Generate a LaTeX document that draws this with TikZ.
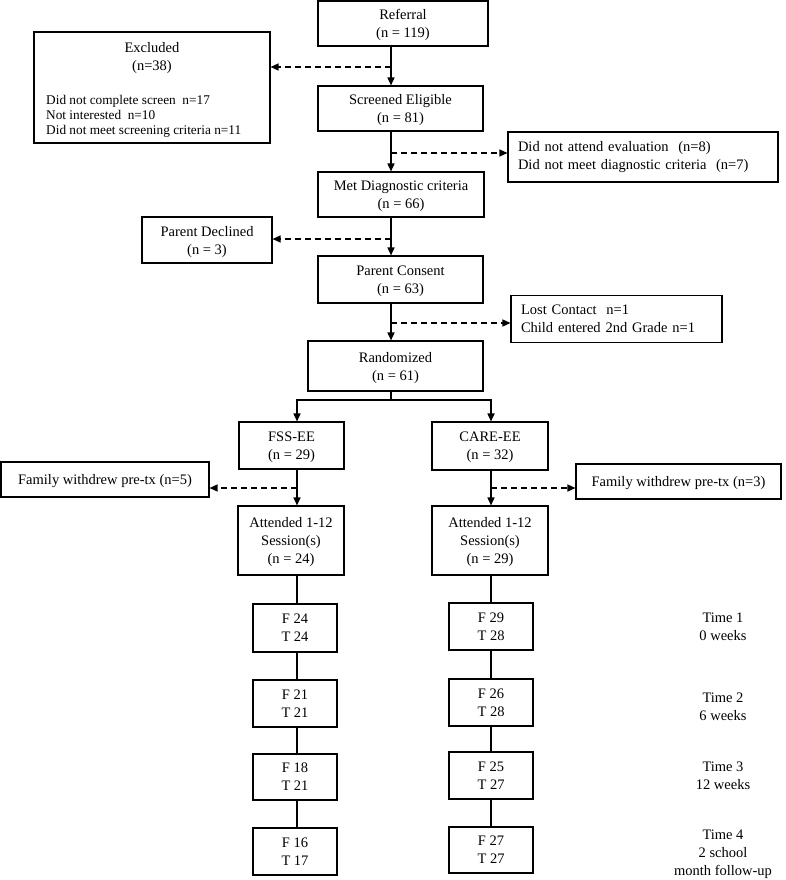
\documentclass[tikz,border=0pt]{standalone}
\usepackage{fontspec}
\setmainfont{Liberation Serif}
\usetikzlibrary{arrows.meta}
\newcommand\dgfont{\fontsize{14.5}{18}\selectfont}
\newcommand\dgsmall{\fontsize{13.3}{15}\selectfont}
\begin{document}
\begin{tikzpicture}[x=1pt,y=-1pt,
  box/.style={draw, line width=1.1pt, inner sep=0pt, align=center, font=\dgfont, text depth=0pt},
  lbox/.style={draw, line width=1.1pt, inner ysep=0pt, inner xsep=10pt, align=left, font=\dgfont},
  txt/.style={inner sep=0pt, align=center, font=\dgfont},
  arr/.style={line width=1.6pt, -{Triangle[length=8pt,width=7pt]}},
  darr/.style={line width=1.4pt, dash pattern=on 6pt off 4pt, -{Triangle[length=8pt,width=7pt]}},
  sline/.style={line width=1.6pt}]
\useasboundingbox (0,0) rectangle (786,880);
% column coordinates
\coordinate (mx) at (391,0);
\coordinate (lx) at (297,0);
\coordinate (rx) at (491,0);
% main boxes
\node[box, minimum width=170pt, minimum height=45pt] (ref) at (403,23.5) {Referral\\(n = 119)};
\node[draw, line width=1.1pt, inner sep=0pt, minimum width=236pt, minimum height=111pt] (exc) at (152,87.5) {};
\node[txt] (exch) at (152,58) {Excluded\\(n=38)};
\node[inner sep=0pt, align=left, font=\dgsmall, anchor=west] (excl) at (46,116) {Did not complete screen~~n=17\\Not interested~~n=10\\Did not meet screening criteria n=11};
\node[box, minimum width=165pt, minimum height=45pt] (scr) at (400.5,108.5) {Screened Eligible\\(n = 81)};
\node[lbox, text width=250pt, minimum height=50pt] (dna) at (643,157) {Did not attend evaluation~~(n=8)\\Did not meet diagnostic criteria~~(n=7)};
\node[box, minimum width=166pt, minimum height=45pt] (met) at (401,194.5) {Met Diagnostic criteria\\(n = 66)};
\node[box, minimum width=130pt, minimum height=46pt] (pdec) at (207,240) {Parent Declined\\(n = 3)};
\node[box, minimum width=165pt, minimum height=47pt] (pcon) at (400.5,279.5) {Parent Consent\\(n = 63)};
\node[lbox, text width=191pt, minimum height=47pt] (lost) at (616.5,319) {Lost Contact~~n=1\\Child entered 2nd Grade n=1};
\node[box, minimum width=175pt, minimum height=50pt] (rand) at (395.5,366) {Randomized\\(n = 61)};
\node[box, minimum width=105pt, minimum height=47pt] (fss) at (291.5,445.5) {FSS-EE\\(n = 29)};
\node[box, minimum width=116pt, minimum height=48pt] (care) at (490,446) {CARE-EE\\(n = 32)};
\node[box, minimum width=208pt, minimum height=35pt] (faml) at (105,479.5) {Family withdrew pre-tx (n=5)};
\node[box, minimum width=205pt, minimum height=35pt] (famr) at (678.5,481.5) {Family withdrew pre-tx (n=3)};
\node[box, minimum width=106pt, minimum height=69pt] (attl) at (291,540.5) {Attended 1-12\\Session(s)\\(n = 24)};
\node[box, minimum width=116pt, minimum height=69pt] (attr) at (490,540.5) {Attended 1-12\\Session(s)\\(n = 29)};
% follow-up boxes
\node[box, minimum width=84pt, minimum height=48pt] (l1) at (295,628) {F 24\\T 24};
\node[box, minimum width=84pt, minimum height=47pt] (l2) at (295,703.5) {F 21\\T 21};
\node[box, minimum width=84pt, minimum height=46pt] (l3) at (295,777) {F 18\\T 21};
\node[box, minimum width=84pt, minimum height=47pt] (l4) at (295,851.5) {F 16\\T 17};
\node[box, minimum width=84pt, minimum height=47pt] (r1) at (491,626.5) {F 29\\T 28};
\node[box, minimum width=84pt, minimum height=47pt] (r2) at (491,702.5) {F 26\\T 28};
\node[box, minimum width=84pt, minimum height=47pt] (r3) at (491,775.5) {F 25\\T 27};
\node[box, minimum width=84pt, minimum height=46pt] (r4) at (491,850) {F 27\\T 27};
% time labels
\node[txt] (t1) at (723,627) {Time 1\\0 weeks};
\node[txt] (t2) at (723,707) {Time 2\\6 weeks};
\node[txt] (t3) at (723,775.5) {Time 3\\12 weeks};
\node[txt] (t4) at (723,854) {Time 4\\2 school\\month follow-up};
% main arrows
\draw[arr] (ref.south -| mx) -- (scr.north -| mx);
\draw[arr] (scr.south -| mx) -- (met.north -| mx);
\draw[arr] (met.south -| mx) -- (pcon.north -| mx);
\draw[arr] (pcon.south -| mx) -- (rand.north -| mx);
% dashed exclusions
\coordinate (d1) at (391,67);
\coordinate (d2) at (391,153);
\coordinate (d3) at (391,239);
\coordinate (d4) at (391,323);
\draw[darr] (d1) -- (exc.east |- d1);
\draw[darr] (d2) -- (dna.west |- d2);
\draw[darr] (d3) -- (pdec.east |- d3);
\draw[darr] (d4) -- (lost.west |- d4);
% branching
\coordinate (br) at (391,400);
\draw[sline] (rand.south -| mx) -- (br);
\draw[arr] (br) -| (fss.north -| lx);
\draw[arr] (br) -| (care.north -| rx);
\draw[arr] (fss.south -| lx) -- (attl.north -| lx);
\draw[arr] (care.south -| rx) -- (attr.north -| rx);
\coordinate (d5) at (297,488);
\coordinate (d6) at (491,488);
\draw[darr] (d5) -- (faml.east |- d5);
\draw[darr] (d6) -- (famr.west |- d6);
% follow-up lines
\draw[sline] (attl.south -| lx) -- (l1.north -| lx);
\draw[sline] (l1.south -| lx) -- (l2.north -| lx);
\draw[sline] (l2.south -| lx) -- (l3.north -| lx);
\draw[sline] (l3.south -| lx) -- (l4.north -| lx);
\draw[sline] (attr.south -| rx) -- (r1.north -| rx);
\draw[sline] (r1.south -| rx) -- (r2.north -| rx);
\draw[sline] (r2.south -| rx) -- (r3.north -| rx);
\draw[sline] (r3.south -| rx) -- (r4.north -| rx);
\end{tikzpicture}
\end{document}
